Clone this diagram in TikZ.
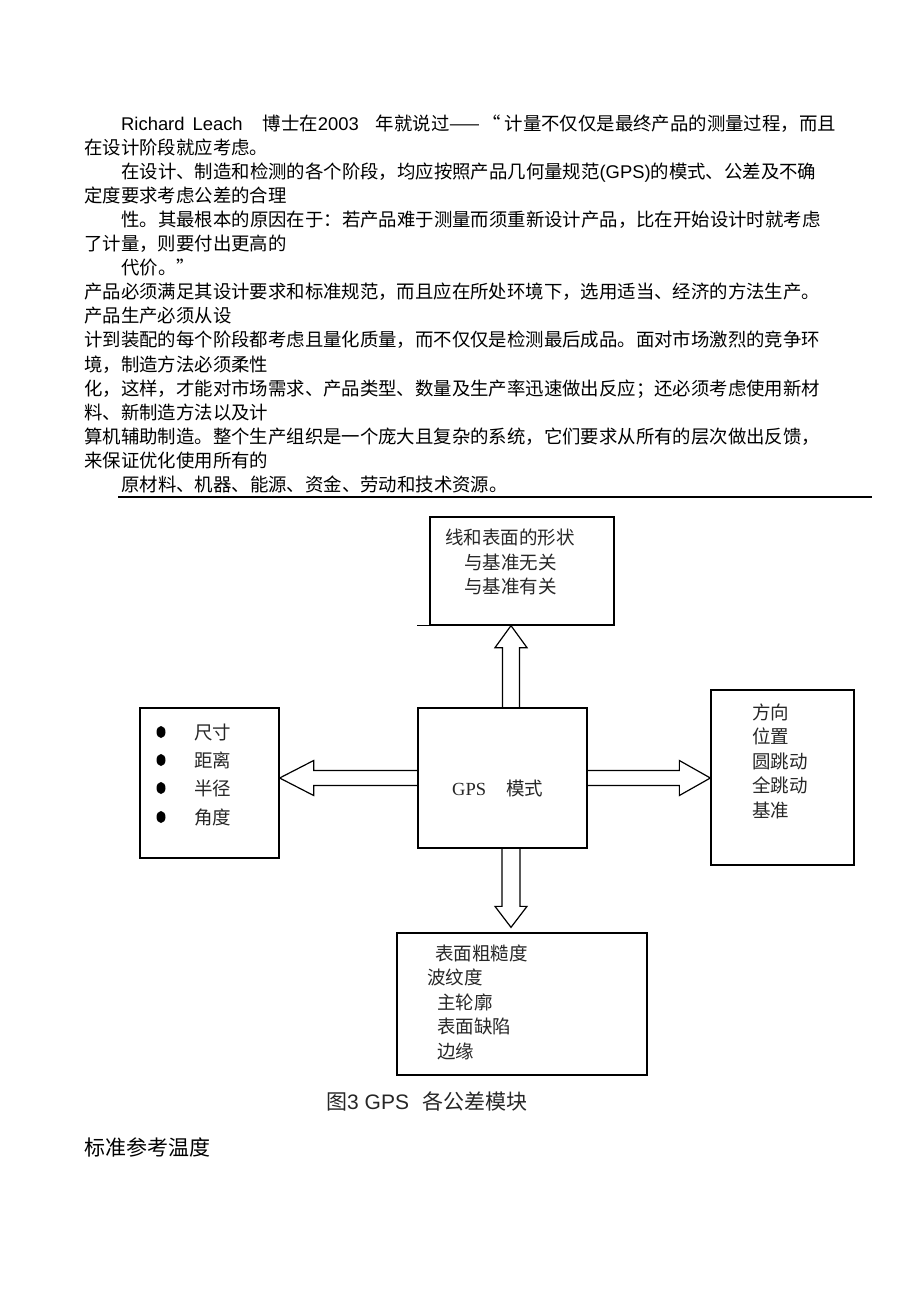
\documentclass[tikz,border=0pt]{standalone}
\usepackage{fontspec}
\setmainfont{Noto Sans CJK SC}
\newfontfamily\lat{Liberation Sans}
\newfontfamily\latser{Liberation Serif}
\usetikzlibrary{calc}

\begin{document}
\begin{tikzpicture}[x=1pt,y=-1pt,
    body/.style={anchor=base west,inner sep=0pt,font=\fontsize{18.4}{22}\selectfont},
    lbl/.style={anchor=base west,inner sep=0pt,text=black!85,font=\fontsize{18.5}{22}\selectfont},
    big/.style={anchor=base west,inner sep=0pt,font=\fontsize{21}{25}\selectfont},
    box/.style={draw,line width=1.3pt,inner sep=0pt},
    blockarr/.style={draw,line width=1.2pt,line join=miter}
  ]
  \useasboundingbox (0,0) rectangle (920,1302);

  % text above the figure
  \node[body] (p1) at (121,130) {{\lat Richard\hspace{8pt}Leach}\hspace{20pt}博士在{\lat 2003}\hspace{17pt}年就说过——\hspace{2pt}“\hspace{4pt}计量不仅仅是最终产品的测量过程，而且};
  \node[body] (p2) at (84,154.1) {在设计阶段就应考虑。};
  \node[body] (p3) at (121,178.2) {在设计、制造和检测的各个阶段，均应按照产品几何量规范{\lat (GPS)}的模式、公差及不确};
  \node[body] (p4) at (84,202.3) {定度要求考虑公差的合理};
  \node[body] (p5) at (121,226.4) {性。其最根本的原因在于：若产品难于测量而须重新设计产品，比在开始设计时就考虑};
  \node[body] (p6) at (84,250.5) {了计量，则要付出更高的};
  \node[body] (p7) at (121,274.6) {代价。”};
  \node[body] (p8) at (84,298.7) {产品必须满足其设计要求和标准规范，而且应在所处环境下，选用适当、经济的方法生产。};
  \node[body] (p9) at (84,322.8) {产品生产必须从设};
  \node[body] (p10) at (84,346.9) {计到装配的每个阶段都考虑且量化质量，而不仅仅是检测最后成品。面对市场激烈的竞争环};
  \node[body] (p11) at (84,371) {境，制造方法必须柔性};
  \node[body] (p12) at (84,395.1) {化，这样，才能对市场需求、产品类型、数量及生产率迅速做出反应；还必须考虑使用新材};
  \node[body] (p13) at (84,419.2) {料、新制造方法以及计};
  \node[body] (p14) at (84,443.3) {算机辅助制造。整个生产组织是一个庞大且复杂的系统，它们要求从所有的层次做出反馈，};
  \node[body] (p15) at (84,467.4) {来保证优化使用所有的};
  \node[body] (p16) at (121,491.5) {原材料、机器、能源、资金、劳动和技术资源。};
  \draw[line width=1.3pt] (118,497) -- (872,497);

  % boxes
  \node[box,minimum width=184pt,minimum height=108pt] (form) at (522,571) {};
  \node[box,minimum width=169pt,minimum height=140pt] (gps) at (502.5,778) {};
  \node[box,minimum width=139pt,minimum height=150pt] (dims) at (209.5,783) {};
  \node[box,minimum width=143pt,minimum height=175pt] (orient) at (782.5,777.5) {};
  \node[box,minimum width=250pt,minimum height=142pt] (surf) at (522,1004) {};
  \draw[line width=1.3pt] (form.south west) -- ++(-12,0);

  % box texts
  \node[lbl] (f1) at (445,544) {线和表面的形状};
  \node[lbl] (f2) at (464,569) {与基准无关};
  \node[lbl] (f3) at (464,593) {与基准有关};

  \node[lbl] (g1) at (452,795) {{\latser GPS}\hspace{20pt}模式};

  \node[lbl] (d1) at (194,739) {尺寸};
  \node[lbl] (d2) at (194,767) {距离};
  \node[lbl] (d3) at (194,795) {半径};
  \node[lbl] (d4) at (194,824) {角度};
  \foreach \y in {732,760,788,817}
    \fill (161,\y) ellipse [x radius=4.5pt,y radius=6pt];

  \node[lbl] (o1) at (752,719) {方向};
  \node[lbl] (o2) at (752,743) {位置};
  \node[lbl] (o3) at (752,768) {圆跳动};
  \node[lbl] (o4) at (752,792) {全跳动};
  \node[lbl] (o5) at (752,817) {基准};

  \node[lbl] (s1) at (435,960) {表面粗糙度};
  \node[lbl] (s2) at (427,984) {波纹度};
  \node[lbl] (s3) at (437,1009) {主轮廓};
  \node[lbl] (s4) at (437,1033) {表面缺陷};
  \node[lbl] (s5) at (437,1058) {边缘};

  % block arrows
  \coordinate (ax) at (511,0);
  \draw[blockarr] ($(gps.north -| ax)+(-8.5,0)$) -- ($(form.south -| ax)+(-8.5,22)$) -- ++(-7.5,0)
    -- (form.south -| ax) -- ($(form.south -| ax)+(16,22)$) -- ++(-7.5,0) -- ($(gps.north -| ax)+(8.5,0)$);
  \draw[blockarr] ($(gps.south -| ax)+(-9,0)$) -- ($(surf.north -| ax)+(-9,-26)$) -- ++(-7,0)
    -- ($(surf.north -| ax)+(0,-5)$) -- ($(surf.north -| ax)+(16,-26)$) -- ++(-7,0) -- ($(gps.south -| ax)+(9,0)$);
  \draw[blockarr] ($(gps.west)+(0,-7.5)$) -- ($(dims.east |- gps.west)+(34,-7.5)$) -- ++(0,-10)
    -- (dims.east |- gps.west) -- ($(dims.east |- gps.west)+(34,17.5)$) -- ++(0,-10) -- ($(gps.west)+(0,7.5)$);
  \draw[blockarr] ($(gps.east)+(0,-7.5)$) -- ($(orient.west |- gps.east)+(-31,-7.5)$) -- ++(0,-10)
    -- (orient.west |- gps.east) -- ($(orient.west |- gps.east)+(-31,17.5)$) -- ++(0,-10) -- ($(gps.east)+(0,7.5)$);

  % caption and heading
  \node[big,text=black!85] (cap) at (326,1109.5) {图{\lat 3 GPS}\hspace{13pt}各公差模块};
  \node[big] (sec) at (84,1155.5) {标准参考温度};
\end{tikzpicture}
\end{document}
